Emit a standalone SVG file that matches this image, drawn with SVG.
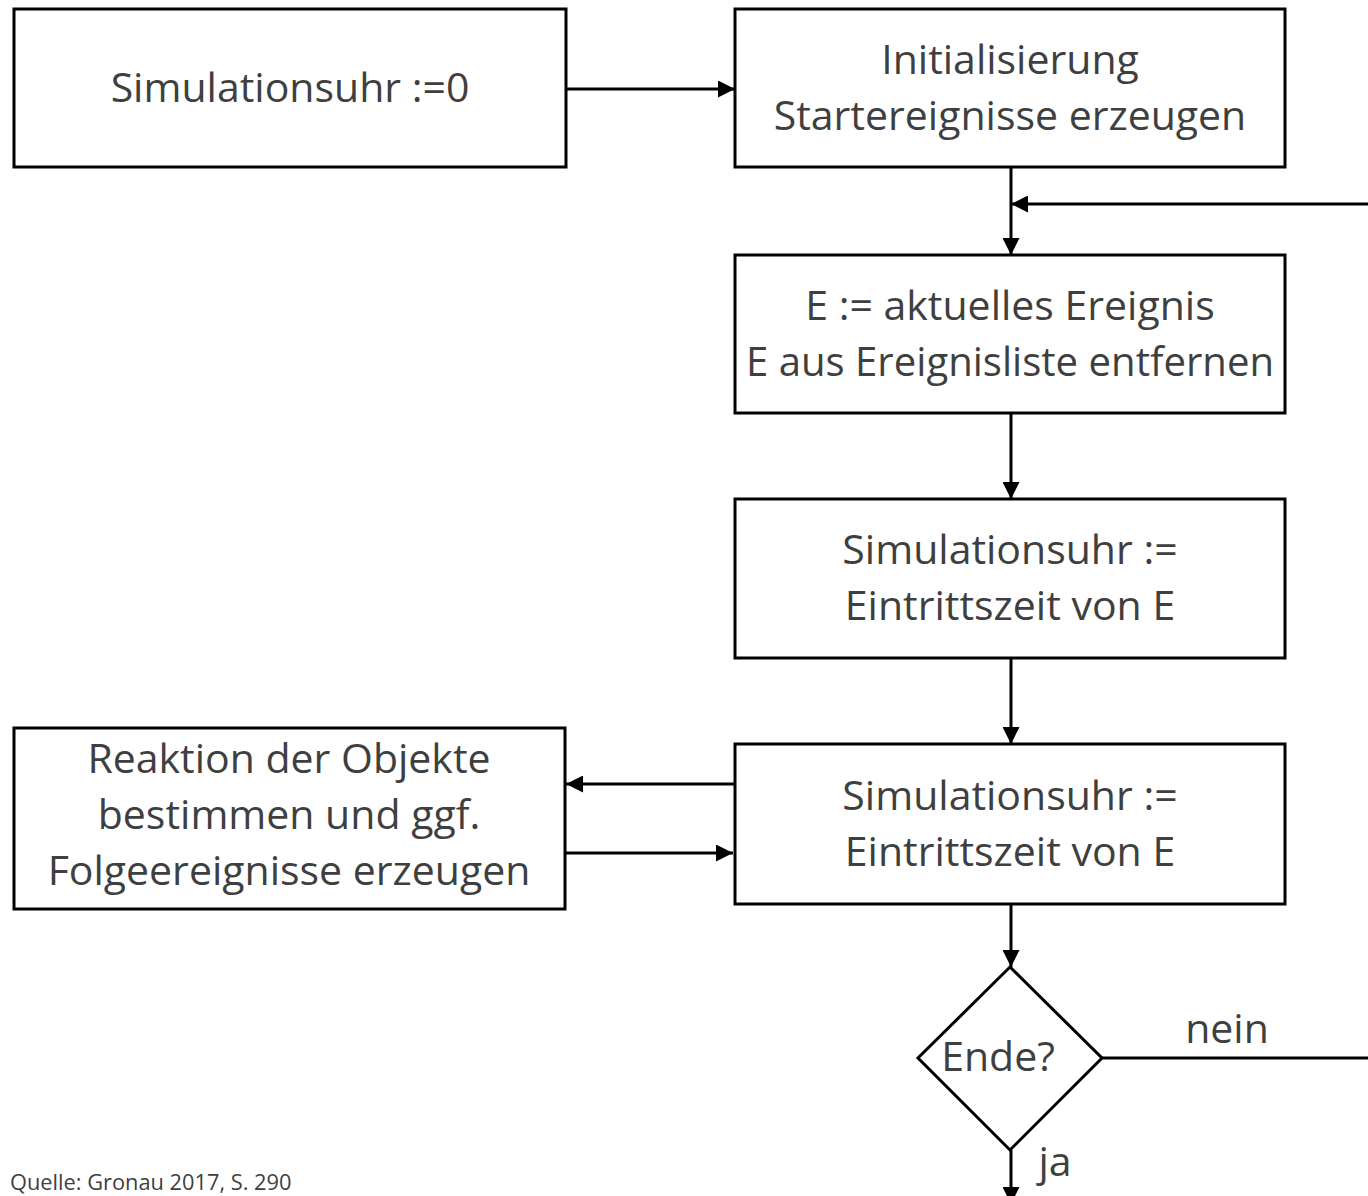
<svg xmlns="http://www.w3.org/2000/svg" width="1368" height="1196" viewBox="0 0 1368 1196">
<style>
.box{fill:#fff;stroke:#000;stroke-width:3}
.t{font-family:"Open Sans","Liberation Sans",sans-serif;font-size:41px;fill:#3f3f3f;text-anchor:middle}
.c{stroke:#000;stroke-width:3;fill:none}
.src{font-family:"Open Sans","Liberation Sans",sans-serif;font-size:21.8px;fill:#3f3f3f}
</style>
<defs>
<marker id="ah" viewBox="0 0 16 16" refX="16" refY="8" markerWidth="17" markerHeight="17" markerUnits="userSpaceOnUse" orient="auto">
<path d="M0,0 L16,8 L0,16 z" fill="#000"/>
</marker>
</defs>
<rect width="1368" height="1196" fill="#fff"/>
<g id="n1"><rect class="box" x="14" y="9" width="552" height="158"/><text class="t" x="290" y="102">Simulationsuhr :=0</text></g>
<g id="n2"><rect class="box" x="735" y="9" width="550" height="158"/><text class="t" x="1010" y="74">Initialisierung</text><text class="t" x="1010" y="130">Startereignisse erzeugen</text></g>
<g id="n3"><rect class="box" x="735" y="255" width="550" height="158"/><text class="t" x="1010" y="320">E := aktuelles Ereignis</text><text class="t" x="1010" y="376" textLength="528" lengthAdjust="spacingAndGlyphs">E aus Ereignisliste entfernen</text></g>
<g id="n4"><rect class="box" x="735" y="499" width="550" height="159"/><text class="t" x="1010" y="564">Simulationsuhr :=</text><text class="t" x="1010" y="620">Eintrittszeit von E</text></g>
<g id="n5"><rect class="box" x="735" y="744" width="550" height="160"/><text class="t" x="1010" y="810">Simulationsuhr :=</text><text class="t" x="1010" y="866">Eintrittszeit von E</text></g>
<g id="n6"><rect class="box" x="14" y="728" width="551" height="181"/><text class="t" x="289" y="773">Reaktion der Objekte</text><text class="t" x="289" y="829">bestimmen und ggf.</text><text class="t" x="289" y="885">Folgeereignisse erzeugen</text></g>
<g id="n7"><polygon class="box" points="1010,967 1102,1058 1010,1150 918,1058"/><text class="t" x="998" y="1071">Ende?</text></g>
<g id="connectors">
<line class="c" x1="566" y1="89" x2="735" y2="89" marker-end="url(#ah)"/>
<line class="c" x1="1011" y1="167" x2="1011" y2="255" marker-end="url(#ah)"/>
<line class="c" x1="1368" y1="204" x2="1011" y2="204" marker-end="url(#ah)"/>
<line class="c" x1="1011" y1="413" x2="1011" y2="499" marker-end="url(#ah)"/>
<line class="c" x1="1011" y1="658" x2="1011" y2="744" marker-end="url(#ah)"/>
<line class="c" x1="735" y1="784" x2="566" y2="784" marker-end="url(#ah)"/>
<line class="c" x1="566" y1="853" x2="733" y2="853" marker-end="url(#ah)"/>
<line class="c" x1="1011" y1="904" x2="1011" y2="967" marker-end="url(#ah)"/>
<line class="c" x1="1102" y1="1058" x2="1368" y2="1058"/>
<line class="c" x1="1011" y1="1150" x2="1011" y2="1204" marker-end="url(#ah)"/>
<text class="t" x="1227" y="1043">nein</text>
<text class="t" x="1055" y="1176">ja</text>
</g>
<text class="src" x="10" y="1190">Quelle: Gronau 2017, S. 290</text>
</svg>
